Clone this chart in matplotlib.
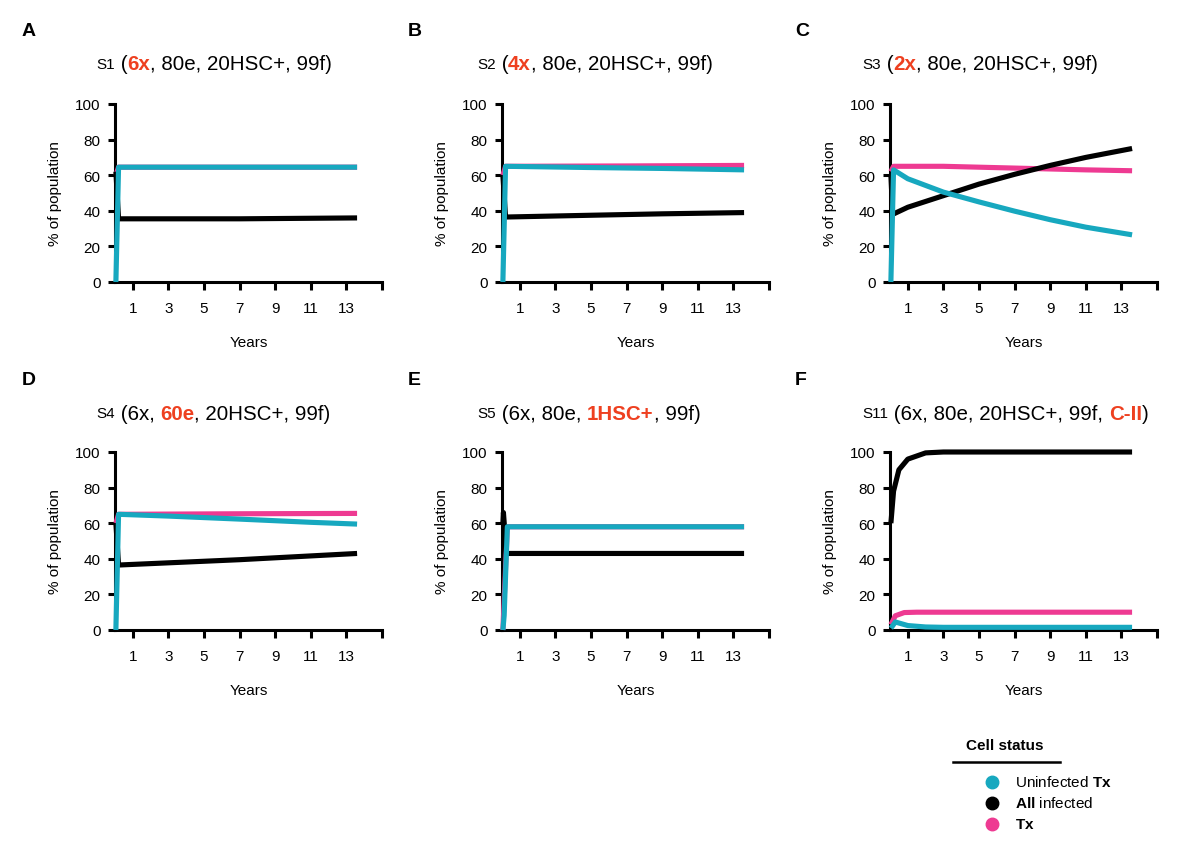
import matplotlib
matplotlib.use("Agg")
import matplotlib.pyplot as plt
from matplotlib.lines import Line2D

plt.rcParams['font.family'] = ['Liberation Sans', 'DejaVu Sans']
plt.rcParams['mathtext.fontset'] = 'custom'
plt.rcParams['mathtext.rm'] = 'Liberation Sans'
plt.rcParams['mathtext.bf'] = 'Liberation Sans:bold'

# ---------------- data ----------------
x_ticks = [1, 3, 5, 7, 9, 11, 13, 15]
x_ticklabels = ['1', '3', '5', '7', '9', '11', '13', '']
y_ticks = [0, 20, 40, 60, 80, 100]

# Panel A (S1)
a_t_unin = [0.05, 0.2, 13.6]
a_unin = [0, 64.5, 64.5]
a_t_inf = [0.05, 0.2, 7, 13.6]
a_inf = [62, 35.5, 35.5, 36]
a_t_tx = [0.05, 0.2, 13.6]
a_tx = [60, 64.5, 64.5]

# Panel B (S2)
b_t_unin = [0.05, 0.2, 5, 9, 13.6]
b_unin = [0, 65, 64.3, 63.8, 63]
b_t_inf = [0.05, 0.2, 5, 9, 13.6]
b_inf = [60, 36.5, 37.5, 38.3, 39]
b_t_tx = [0.05, 0.2, 7, 13.6]
b_tx = [60, 65, 65.2, 65.5]

# Panel C (S3)
c_t_unin = [0.05, 0.2, 1, 3, 5, 7, 9, 11, 13.6]
c_unin = [0, 63, 58, 50.5, 45, 39.8, 35, 30.8, 26.5]
c_t_inf = [0.05, 0.15, 1, 3, 5, 7, 9, 11, 13.6]
c_inf = [60, 38, 42, 48.5, 55, 60.5, 65.5, 70, 75]
c_t_tx = [0.05, 0.2, 3, 5, 7, 9, 11, 13.6]
c_tx = [62, 65, 65, 64.5, 64, 63.5, 63, 62.5]

# Panel D (S4)
d_t_unin = [0.05, 0.2, 3, 7, 11, 13.6]
d_unin = [0, 65, 64, 62.3, 60.5, 59.5]
d_t_inf = [0.05, 0.2, 7, 13.6]
d_inf = [60, 36.5, 39.5, 43]
d_t_tx = [0.05, 0.2, 7, 13.6]
d_tx = [60, 65, 65.3, 65.5]

# Panel E (S5)
e_t_unin = [0.05, 0.12, 0.3, 13.6]
e_unin = [0, 8, 58, 58]
e_t_inf = [0.05, 0.08, 0.25, 13.6]
e_inf = [60, 66, 43, 43]
e_t_tx = [0.05, 0.3, 13.6]
e_tx = [0, 58, 58]

# Panel F (S11)
f_t_unin = [0.05, 0.3, 1, 2, 3, 13.6]
f_unin = [1, 4.5, 2.5, 1.7, 1.5, 1.5]
f_t_inf = [0.05, 0.2, 0.5, 1, 2, 3, 13.6]
f_inf = [60, 78, 90, 96, 99.5, 100, 100]
f_t_tx = [0.05, 0.3, 0.8, 1.5, 13.6]
f_tx = [3, 8, 9.8, 10, 10]

panel_letters = ['A', 'B', 'C', 'D', 'E', 'F']
panel_ids = ['S1', 'S2', 'S3', 'S4', 'S5', 'S11']
# title pieces: (text, highlighted)
panel_titles = [
    [(' (', False), ('6x', True), (', 80e, 20HSC+, 99f)', False)],
    [(' (', False), ('4x', True), (', 80e, 20HSC+, 99f)', False)],
    [(' (', False), ('2x', True), (', 80e, 20HSC+, 99f)', False)],
    [(' (6x, ', False), ('60e', True), (', 20HSC+, 99f)', False)],
    [(' (6x, 80e, ', False), ('1HSC+', True), (', 99f)', False)],
    [(' (6x, 80e, 20HSC+, 99f, ', False), ('C-II', True), (')', False)],
]
series_names = ['Uninfected $\\mathbf{Tx}$', '$\\mathbf{All}$ infected', '$\\mathbf{Tx}$']

panels = [
    (a_t_unin, a_unin, a_t_inf, a_inf, a_t_tx, a_tx),
    (b_t_unin, b_unin, b_t_inf, b_inf, b_t_tx, b_tx),
    (c_t_unin, c_unin, c_t_inf, c_inf, c_t_tx, c_tx),
    (d_t_unin, d_unin, d_t_inf, d_inf, d_t_tx, d_tx),
    (e_t_unin, e_unin, e_t_inf, e_inf, e_t_tx, e_tx),
    (f_t_unin, f_unin, f_t_inf, f_inf, f_t_tx, f_tx),
]

# ---------------- style ----------------
CYAN = '#17A8BF'
PINK = '#EE3A92'
BLACK = '#000000'
RED = '#EE4020'
W, H = 1200, 853

fig = plt.figure(figsize=(12, 8.53), dpi=100)
renderer = fig.canvas.get_renderer()

col_left = [115, 502, 890]
row_bottom = [283, 631]
ax_w, ax_h = 267, 178
title_x = [96, 477, 862]
title_y = [65, 414]
letter_x = [22, 408, 795]
letter_y = [32, 381]


def rich_text(x_px, y_px, pieces):
    x = x_px / W
    y = 1 - y_px / H
    for txt, kw in pieces:
        t = fig.text(x, y, txt, ha='left', va='center', **kw)
        bb = t.get_window_extent(renderer=renderer)
        x += bb.width / W


for i in range(6):
    r, c = divmod(i, 3)
    left = col_left[c] / W
    bottom = 1 - row_bottom[r] / H
    ax = fig.add_axes([left, bottom, ax_w / W, ax_h / H])
    tu, u, ti, inf, tt, tx = panels[i]
    lw = 3.7
    ax.plot(tt, tx, color=PINK, lw=lw, solid_capstyle='butt', clip_on=False, zorder=3)
    ax.plot(ti, inf, color=BLACK, lw=lw, solid_capstyle='butt', clip_on=False, zorder=4)
    ax.plot(tu, u, color=CYAN, lw=lw, solid_capstyle='butt', clip_on=False, zorder=5)
    ax.set_xlim(0, 15)
    ax.set_ylim(0, 100)
    for s in ['top', 'right']:
        ax.spines[s].set_visible(False)
    for s in ['left', 'bottom']:
        ax.spines[s].set_linewidth(2.2)
    ax.set_xticks(x_ticks)
    ax.set_xticklabels(x_ticklabels)
    ax.set_yticks(y_ticks)
    ax.tick_params(axis='x', length=5.5, width=2.2, pad=8.5, labelsize=11, direction='out')
    ax.tick_params(axis='y', length=5, width=2.2, pad=5.5, labelsize=11, direction='out')
    ax.set_xlabel('Years', fontsize=11, labelpad=14)
    ax.set_ylabel('% of population', fontsize=11, labelpad=9)

    # panel letter
    fig.text(letter_x[c] / W, 1 - letter_y[r] / H, panel_letters[i],
             fontsize=14, fontweight='bold', ha='left', va='center')
    # title
    pieces = [(panel_ids[i], dict(fontsize=11, color=BLACK))]
    for txt, hl in panel_titles[i]:
        if hl:
            pieces.append((txt, dict(fontsize=14.8, color=RED, fontweight='bold')))
        else:
            pieces.append((txt, dict(fontsize=14.8, color=BLACK)))
    rich_text(title_x[c], title_y[r], pieces)

# ---------------- legend ----------------
fig.text(1005 / W, 1 - 746 / H, 'Cell status', fontsize=11, fontweight='bold',
         ha='center', va='center')
fig.add_artist(Line2D([953 / W, 1060 / W], [1 - 763 / H, 1 - 763 / H],
                      color='black', lw=1.8, transform=fig.transFigure))
leg_colors = [CYAN, BLACK, PINK]
leg_y = [783, 804, 825]
for name, col, yy in zip(series_names, leg_colors, leg_y):
    fig.add_artist(Line2D([992 / W], [1 - yy / H], marker='o', markersize=9,
                          color=col, linestyle='none', transform=fig.transFigure))
    fig.text(1015 / W, 1 - yy / H, name, fontsize=11, ha='left', va='center')

fig.savefig('out.png', dpi=100)
